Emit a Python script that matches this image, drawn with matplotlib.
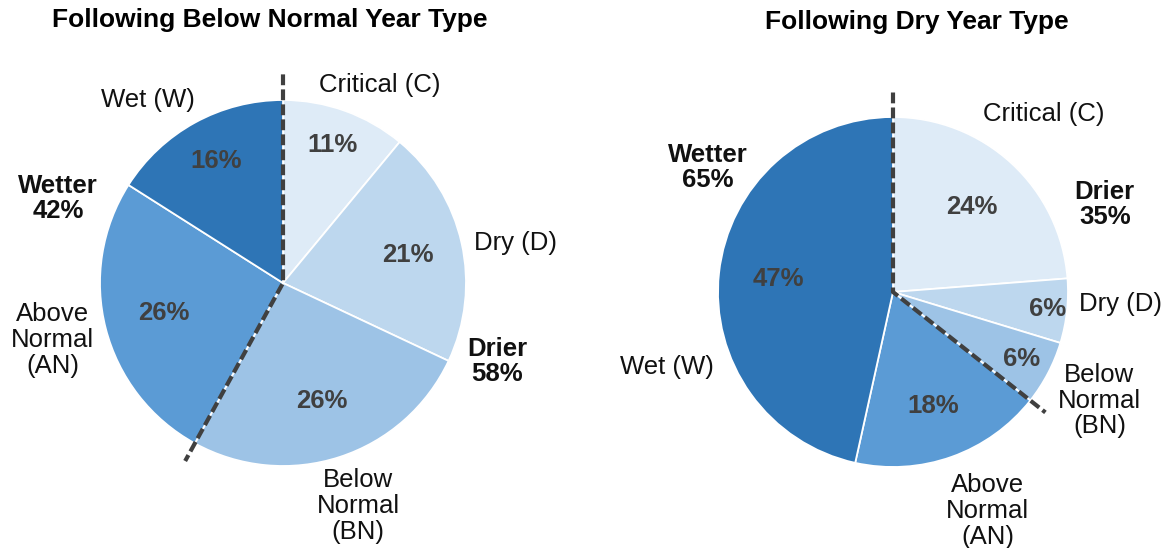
import numpy as np
import matplotlib
matplotlib.use("Agg")
import matplotlib.pyplot as plt

plt.rcParams["font.family"] = ["Liberation Sans", "DejaVu Sans"]

# year types, clockwise from 12 o'clock
types = ["Critical (C)", "Dry (D)", "Below\nNormal\n(BN)", "Above\nNormal\n(AN)", "Wet (W)"]
colors = ["#deebf7", "#bdd7ee", "#9dc3e6", "#5b9bd5", "#2e75b6"]

bn_title = "Following Below Normal Year Type"
bn_values = [11, 21, 26, 26, 16]
bn_drier = 58
bn_wetter = 42

dry_title = "Following Dry Year Type"
dry_values = [24, 6, 6, 18, 47]
dry_drier = 35
dry_wetter = 65

W, H = 1166, 548
fig = plt.figure(figsize=(W / 100, H / 100), dpi=100)

LIM = 1.45
FS = 18.5


def make_ax(cx, cy, r):
    # cx, cy, r in pixels (y from top)
    half = LIM * r
    ax = fig.add_axes([(cx - half) / W, (H - cy - half) / H, 2 * half / W, 2 * half / H])
    ax.set_xlim(-LIM, LIM)
    ax.set_ylim(-LIM, LIM)
    ax.axis("off")
    return ax


def draw_pie(ax, values, pct_dist, label_xy, drier, wetter, drier_xy, wetter_xy, split_idx):
    wedges, _ = ax.pie(values, colors=colors, startangle=90, counterclock=False,
                       radius=1, wedgeprops=dict(edgecolor="white", linewidth=1.3))
    ax.set_xlim(-LIM, LIM)
    ax.set_ylim(-LIM, LIM)
    ax.set_aspect("auto")
    for i, w in enumerate(wedges):
        mid = np.deg2rad((w.theta1 + w.theta2) / 2)
        d = pct_dist[i]
        ax.text(d * np.cos(mid), d * np.sin(mid), f"{values[i]}%", ha="center", va="center",
                fontsize=FS, fontweight="bold", color="#404040")
        lx, ly = label_xy[i]
        ax.text(lx, ly, types[i], ha="center", va="center", fontsize=FS,
                color="#111111", linespacing=1.1)
    ax.text(drier_xy[0], drier_xy[1], f"Drier\n{drier}%", ha="center", va="center",
            fontsize=FS, fontweight="bold", color="#111111", linespacing=1.05)
    ax.text(wetter_xy[0], wetter_xy[1], f"Wetter\n{wetter}%", ha="center", va="center",
            fontsize=FS, fontweight="bold", color="#111111", linespacing=1.05)
    # dashed split between drier and wetter groups
    ang = np.deg2rad(wedges[split_idx].theta1)
    ax.plot([0, 0, 1.11 * np.cos(ang)], [1.14, 0, 1.11 * np.sin(ang)], color="#404040",
            linewidth=3.0, dashes=(2.6, 1.0), solid_capstyle="butt", dash_capstyle="butt", zorder=5)


ax1 = make_ax(283, 283, 183)
draw_pie(ax1, bn_values,
         pct_dist=[0.80, 0.70, 0.68, 0.67, 0.76],
         label_xy=[(0.53, 1.08), (1.27, 0.22), (0.41, -1.22), (-1.26, -0.31), (-0.74, 1.00)],
         drier=bn_drier, wetter=bn_wetter,
         drier_xy=(1.17, -0.43), wetter_xy=(-1.23, 0.46), split_idx=2)

ax2 = make_ax(893, 292, 175)
draw_pie(ax2, dry_values,
         pct_dist=[0.66, 0.89, 0.83, 0.69, 0.66],
         label_xy=[(0.86, 1.02), (1.30, -0.07), (1.18, -0.62), (0.54, -1.25), (-1.29, -0.43)],
         drier=dry_drier, wetter=dry_wetter,
         drier_xy=(1.21, 0.50), wetter_xy=(-1.06, 0.71), split_idx=2)

fig.text(270 / W, 1 - 20 / H, bn_title, ha="center", va="center", fontsize=19, fontweight="bold")
fig.text(917 / W, 1 - 22 / H, dry_title, ha="center", va="center", fontsize=19, fontweight="bold")

fig.savefig("out.png", dpi=100, facecolor="white")
